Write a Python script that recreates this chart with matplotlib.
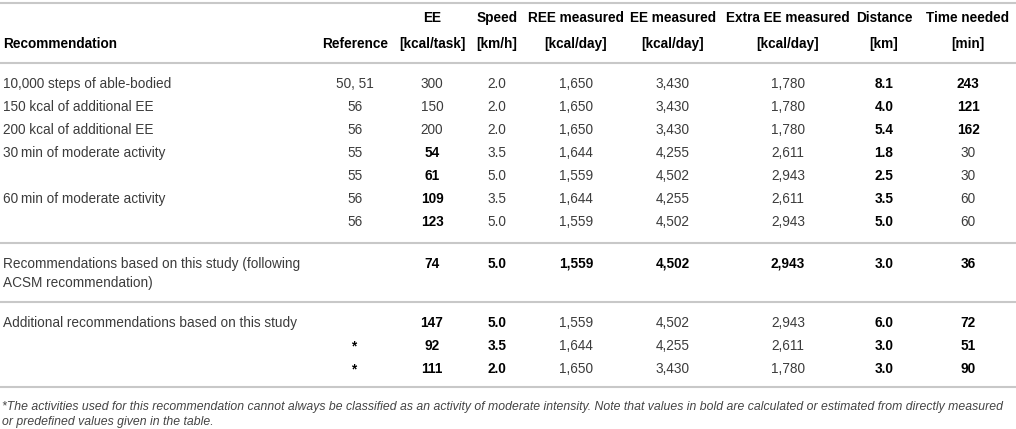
import matplotlib
matplotlib.use('Agg')
import matplotlib.pyplot as plt

plt.rcParams['font.family'] = ['Liberation Sans', 'DejaVu Sans']

# header (two lines)
head_top = ['', '', 'EE', 'Speed', 'REE measured', 'EE measured', 'Extra EE measured', 'Distance', 'Time needed']
head_bot = ['Recommendation', 'Reference', '[kcal/task]', '[km/h]', '[kcal/day]', '[kcal/day]', '[kcal/day]', '[km]', '[min]']

# group 1: literature recommendations
g1_names = ['10,000 steps of able-bodied', '150 kcal of additional EE', '200 kcal of additional EE',
            '30\u2009min of moderate activity', '', '60\u2009min of moderate activity', '']
g1_ref = ['50, 51', '56', '56', '55', '55', '56', '56']
g1_ee = ['300', '150', '200', '54', '61', '109', '123']
g1_speed = ['2.0', '2.0', '2.0', '3.5', '5.0', '3.5', '5.0']
g1_ree = ['1,650', '1,650', '1,650', '1,644', '1,559', '1,644', '1,559']
g1_eem = ['3,430', '3,430', '3,430', '4,255', '4,502', '4,255', '4,502']
g1_extra = ['1,780', '1,780', '1,780', '2,611', '2,943', '2,611', '2,943']
g1_dist = ['8.1', '4.0', '5.4', '1.8', '2.5', '3.5', '5.0']
g1_time = ['243', '121', '162', '30', '30', '60', '60']
# bold columns per row
g1_bold = [{7, 8}, {7, 8}, {7, 8}, {2, 7}, {2, 7}, {2, 7}, {2, 7}]

# group 2: this study (ACSM)
g2_name = ['Recommendations based on this study (following', 'ACSM recommendation)']
g2_vals = ['', '74', '5.0', '1,559', '4,502', '2,943', '3.0', '36']
g2_bold = {2, 3, 4, 5, 6, 7, 8}

# group 3: additional recommendations
g3_names = ['Additional recommendations based on this study', '', '']
g3_ref = ['', '*', '*']
g3_ee = ['147', '92', '111']
g3_speed = ['5.0', '3.5', '2.0']
g3_ree = ['1,559', '1,644', '1,650']
g3_eem = ['4,502', '4,255', '3,430']
g3_extra = ['2,943', '2,611', '1,780']
g3_dist = ['6.0', '3.0', '3.0']
g3_time = ['72', '51', '90']
g3_bold = {1, 2, 3, 7, 8}

footnote = ['*The activities used for this recommendation cannot always be classified as an activity of '
            'moderate intensity. Note that values in bold are calculated or estimated from directly measured',
            'or predefined values given in the table.']

# layout (pixels)
W, H = 1016, 429
col_x = [3, 355, 432, 497, 576, 673, 788, 884, 968]
row_h = 23
fs = 9.8
c_norm = '#3c3c3c'
c_bold = '#000000'
c_line = '#c8c8c8'

fig = plt.figure(figsize=(W / 100, H / 100), dpi=100)
ax = fig.add_axes([0, 0, 1, 1])
ax.set_xlim(0, W)
ax.set_ylim(H, 0)
ax.axis('off')


def cell(x_i, y, s, bold=False, left=False):
    if not s:
        return
    ax.text(col_x[x_i], y, s, ha='left' if left else 'center', va='baseline',
            fontsize=fs, fontweight='bold' if bold else 'normal',
            color=c_bold if bold else c_norm)


def hline(y):
    ax.axhline(y, color=c_line, lw=1.5)


hline(3)
for i in range(9):
    ax.text(col_x[i], 22, head_top[i], ha='left' if i == 0 else 'center', va='baseline',
            fontsize=fs, fontweight='bold', color=c_bold)
    ax.text(col_x[i], 48, head_bot[i], ha='left' if i == 0 else 'center', va='baseline',
            fontsize=fs, fontweight='bold', color=c_bold)
hline(63)

y0 = 88
for r in range(len(g1_names)):
    y = y0 + r * row_h
    vals = [g1_names[r], g1_ref[r], g1_ee[r], g1_speed[r], g1_ree[r], g1_eem[r],
            g1_extra[r], g1_dist[r], g1_time[r]]
    for c, v in enumerate(vals):
        cell(c, y, v, bold=c in g1_bold[r], left=c == 0)
hline(243)

y = 268
for k, line in enumerate(g2_name):
    cell(0, y + k * 19, line, left=True)
for c, v in enumerate(g2_vals, start=1):
    cell(c, y, v, bold=c in g2_bold)
hline(302)

y0 = 327
for r in range(len(g3_names)):
    y = y0 + r * row_h
    vals = [g3_names[r], g3_ref[r], g3_ee[r], g3_speed[r], g3_ree[r], g3_eem[r],
            g3_extra[r], g3_dist[r], g3_time[r]]
    for c, v in enumerate(vals):
        cell(c, y, v, bold=(c in g3_bold) and c > 0, left=c == 0)
hline(387)

for k, line in enumerate(footnote):
    ax.text(2, 410 + k * 15, line, ha='left', va='baseline', fontsize=8.85, style='italic',
            color='#444444')

fig.savefig('out.png', dpi=100)
